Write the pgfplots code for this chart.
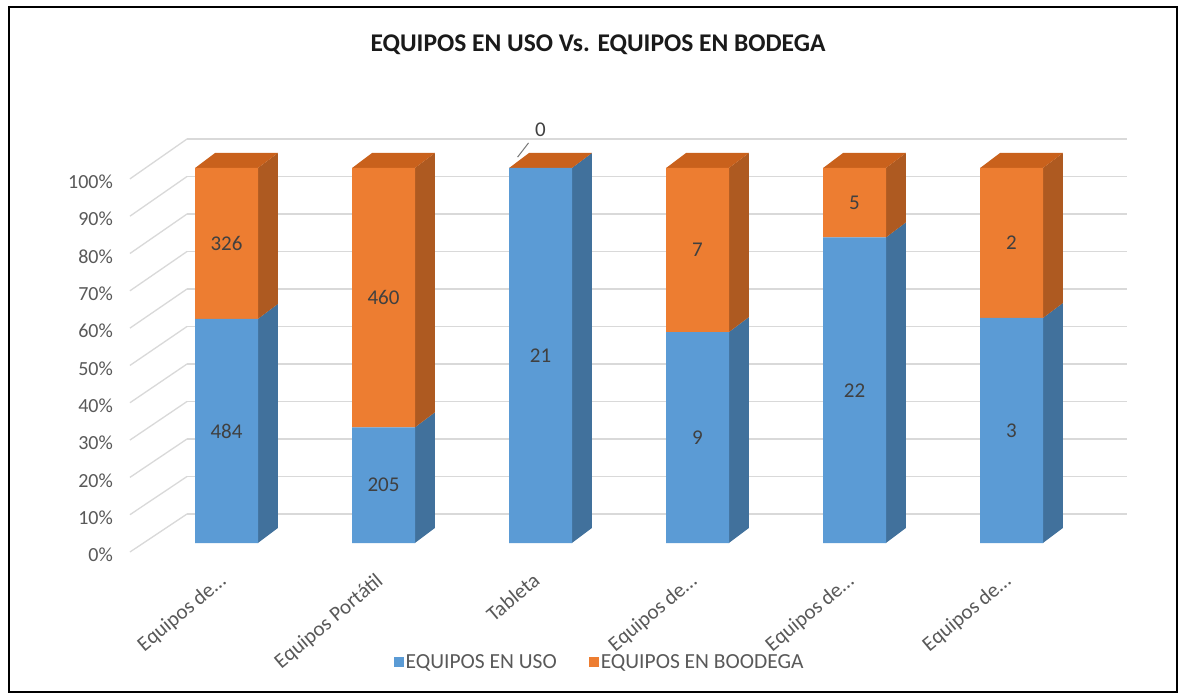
\documentclass[border=0pt]{standalone}
\usepackage{pgfplots}
\pgfplotsset{compat=1.18}
\usepackage{fontspec}
\setmainfont{Carlito}
\definecolor{bfront}{HTML}{5B9BD5}
\definecolor{bside}{HTML}{41719C}
\definecolor{ofront}{HTML}{ED7D31}
\definecolor{oside}{HTML}{AE5A21}
\definecolor{otop}{HTML}{C9611C}
\definecolor{gridc}{HTML}{D9D9D9}
\definecolor{tickc}{HTML}{595959}
\definecolor{labc}{HTML}{404040}
\definecolor{titc}{HTML}{1A1A1A}
\newcommand\fs[1]{\fontsize{#1}{#1}\selectfont}
\pgfplotsset{base/.style={at={(226.5pt,153pt)}, anchor=origin, x=157pt, y=3.75pt,
  xmin=-0.71, xmax=5.9, ymin=-6.67, ymax=112, clip=false}}
\begin{document}
\begin{tikzpicture}[x=1pt,y=1pt]
\fill[white] (0,0) rectangle (1180,696);
\draw[black,line width=2.5pt] (9,4) rectangle (1177,689);
\node[font=\fs{25.5}\bfseries, text=titc] at (598,651) {EQUIPOS EN USO Vs. EQUIPOS EN BODEGA};

\begin{axis}[base, axis line style={draw=none}, major tick length=0pt,
  ytick={-3.2,6.75,16.7,26.65,36.6,46.55,56.5,66.45,76.4,86.35,96.3},
  yticklabels={0\%,10\%,20\%,30\%,40\%,50\%,60\%,70\%,80\%,90\%,100\%},
  xtick={0,1,2,3,4,5},
  xticklabels={Equipos de…,Equipos Portátil,Tableta,Equipos de…,Equipos de…,Equipos de…},
  yticklabel style={font=\fs{20}, text=tickc, anchor=east, inner sep=0pt, xshift=-2pt},
  xticklabel style={font=\fs{21}, text=tickc, rotate=40, anchor=north east, inner sep=0pt, xshift=-9pt, yshift=3pt}]
\pgfplotsinvokeforeach{0,10,...,100}{
  \draw[gridc, line width=1.3pt] (axis cs:-0.2516,{#1+7.73}) -- (axis cs:5.736,{#1+7.73});
  \draw[gridc, line width=1.3pt] (axis cs:-0.615,{#1*0.995-2.4}) -- (axis cs:-0.2516,{#1+7.73});
}
% side and top faces
\addplot[fill=bside, draw=none, forget plot] coordinates {(0.2,0)(0.327,4)(0.327,63.75)(0.2,59.75)(0.2,0)};
\addplot[fill=oside, draw=none, forget plot] coordinates {(0.2,59.75)(0.327,63.75)(0.327,104)(0.2,100)(0.2,59.75)};
\addplot[fill=otop, draw=none, forget plot] coordinates {(-0.2,100)(-0.073,104)(0.327,104)(0.2,100)(-0.2,100)};
\addplot[fill=bside, draw=none, forget plot] coordinates {(1.2,0)(1.327,4)(1.327,34.83)(1.2,30.83)(1.2,0)};
\addplot[fill=oside, draw=none, forget plot] coordinates {(1.2,30.83)(1.327,34.83)(1.327,104)(1.2,100)(1.2,30.83)};
\addplot[fill=otop, draw=none, forget plot] coordinates {(0.8,100)(0.927,104)(1.327,104)(1.2,100)(0.8,100)};
\addplot[fill=bside, draw=none, forget plot] coordinates {(2.2,0)(2.327,4)(2.327,104)(2.2,100)(2.2,0)};
\addplot[fill=otop, draw=none, forget plot] coordinates {(1.8,100)(1.927,104)(2.327,104)(2.2,100)(1.8,100)};
\addplot[fill=bside, draw=none, forget plot] coordinates {(3.2,0)(3.327,4)(3.327,60.25)(3.2,56.25)(3.2,0)};
\addplot[fill=oside, draw=none, forget plot] coordinates {(3.2,56.25)(3.327,60.25)(3.327,104)(3.2,100)(3.2,56.25)};
\addplot[fill=otop, draw=none, forget plot] coordinates {(2.8,100)(2.927,104)(3.327,104)(3.2,100)(2.8,100)};
\addplot[fill=bside, draw=none, forget plot] coordinates {(4.2,0)(4.327,4)(4.327,85.48)(4.2,81.48)(4.2,0)};
\addplot[fill=oside, draw=none, forget plot] coordinates {(4.2,81.48)(4.327,85.48)(4.327,104)(4.2,100)(4.2,81.48)};
\addplot[fill=otop, draw=none, forget plot] coordinates {(3.8,100)(3.927,104)(4.327,104)(4.2,100)(3.8,100)};
\addplot[fill=bside, draw=none, forget plot] coordinates {(5.2,0)(5.327,4)(5.327,64)(5.2,60)(5.2,0)};
\addplot[fill=oside, draw=none, forget plot] coordinates {(5.2,60)(5.327,64)(5.327,104)(5.2,100)(5.2,60)};
\addplot[fill=otop, draw=none, forget plot] coordinates {(4.8,100)(4.927,104)(5.327,104)(5.2,100)(4.8,100)};
\end{axis}

\begin{axis}[base, hide axis, ybar stacked, bar width=63pt,
  legend columns=2,
  legend style={at={(0.467,-0.211)}, anchor=center, draw=none, fill=none,
    font=\fs{21.5}, text=tickc, /tikz/every even column/.append style={column sep=30pt}},
  legend image code/.code={\fill[#1, draw=none] (-6pt,-5pt) rectangle (4pt,5pt);}]
\addplot[fill=bfront, draw=none] coordinates {(0,59.75)(1,30.83)(2,100)(3,56.25)(4,81.48)(5,60)};
\addplot[fill=ofront, draw=none] coordinates {(0,40.25)(1,69.17)(2,0)(3,43.75)(4,18.52)(5,40)};
\legend{EQUIPOS EN USO, EQUIPOS EN BOODEGA}
\end{axis}

\begin{axis}[base, hide axis]
\addplot[only marks, mark=none, nodes near coords, point meta=explicit symbolic,
  nodes near coords style={anchor=center, font=\fs{21}, text=labc}]
  coordinates {(0,29.88)[484] (1,15.41)[205] (2,50)[21] (3,28.13)[9] (4,40.74)[22] (5,30)[3]};
\addplot[only marks, mark=none, nodes near coords, point meta=explicit symbolic,
  nodes near coords style={anchor=center, font=\fs{21}, text=labc}]
  coordinates {(0,79.88)[326] (1,65.41)[460] (2,110.1)[0] (3,78.13)[7] (4,90.74)[5] (5,80)[2]};
\draw[labc!70, line width=1pt] (axis cs:1.854,102.9) -- (axis cs:1.924,106.7);
\end{axis}
\end{tikzpicture}
\end{document}
